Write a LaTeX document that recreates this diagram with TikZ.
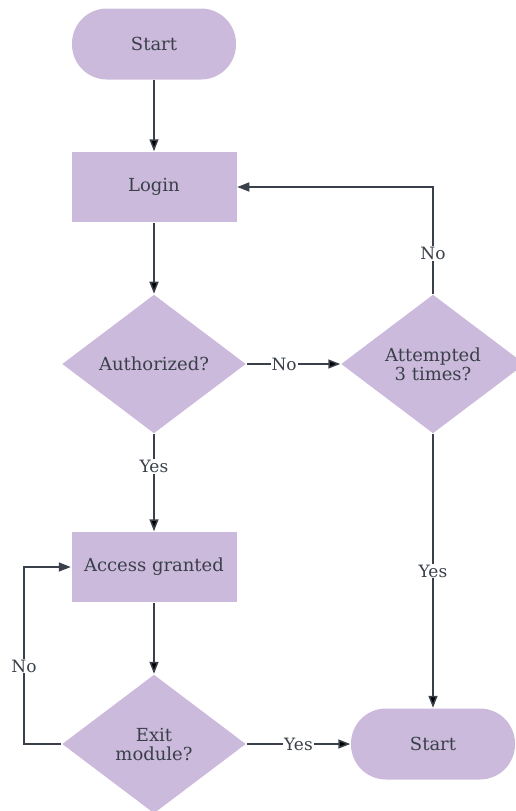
\documentclass[tikz,border=0pt]{standalone}
\usepackage{fontspec}
\setmainfont{DejaVu Serif}
\usetikzlibrary{
    shapes.geometric,
    arrows.meta
}
\definecolor{lilac}{RGB}{203,186,219}
\definecolor{ink}{RGB}{58,64,74}
\tikzset{
    >={Triangle[length=12pt,width=9pt]},
    box/.style={
        rectangle, fill=lilac, text=ink,
        minimum width=165pt, minimum height=70pt,
        inner sep=2pt
    },
    term/.style={
        box, rounded corners=35pt,
        minimum width=164pt, minimum height=71pt
    },
    query/.style={
        diamond, fill=lilac, text=ink, align=center,
        minimum width=184pt, minimum height=139pt,
        inner sep=0pt
    },
    lab/.style={
        fill=white, text=ink, inner sep=1pt,
        font=\fontsize{17}{18}\selectfont
    }
}

\begin{document}
\begin{tikzpicture}[
    x=1pt, y=-1pt,
    font=\fontsize{18}{19}\selectfont,
    line width=1.5pt
]
    \useasboundingbox (0,0) rectangle (515,811);

    % Nodos
    \node[term]  (start)  at (154,44)  {Start};
    \node[box]   (login)  at (154,187) {Login};
    \node[query] (auth)   at (154,364) {Authorized?};
    \node[query] (tries)  at (433,364) {Attempted\\3 times?};
    \node[box]   (access) at (154,567) {Access granted};
    \node[query] (exitq)  at (154,744) {Exit\\module?};
    \node[term]  (stop)   at (433,744) {Start};
    \coordinate  (loopL)  at (24,744);

    % Conexiones
    \path[->, draw=ink]
        (start) edge (login)
        (login) edge (auth)
        (auth)
            edge node[lab, pos=0.4] {No} (tries)
            edge node[lab, pos=0.33] {Yes} (access)
        (tries)
            edge node[lab, pos=0.5] {Yes} (stop)
        (access) edge (exitq)
        (exitq)
            edge node[lab, pos=0.5] {Yes} (stop);

    % Bucles
    \draw[->, ink] (tries.north) |- node[lab, pos=0.19] {No} (login.east);
    \draw[->, ink] (exitq.west) -- (loopL)
        |- node[lab, pos=0.22] {No} (access.west);

\end{tikzpicture}
\end{document}
